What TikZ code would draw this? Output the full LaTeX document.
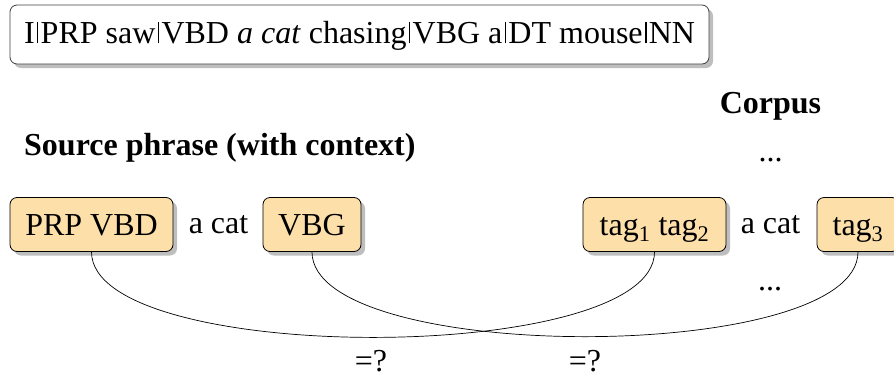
\documentclass[tikz,border=0pt]{standalone}
\usepackage{fontspec}
\setmainfont{Liberation Serif}
\usetikzlibrary{shadows}
\definecolor{tagfill}{RGB}{253,223,170}
\definecolor{shadowgray}{RGB}{190,190,190}
% short separator bar between a word and its tag
\newcommand{\tagsep}{\makebox[0.19em]{\rule{1.6pt}{0.66em}}}
\begin{document}
\begin{tikzpicture}[x=1pt,y=-1pt,
  every node/.style={font=\fontsize{32}{38}\selectfont, inner sep=0pt},
  boxbase/.style={rounded corners=7pt, line width=0.8pt,
    drop shadow={shadow xshift=4pt, shadow yshift=-4pt, fill=shadowgray, opacity=1}},
  sentbox/.style={boxbase, draw=black!75, fill=white, minimum width=699pt, minimum height=59pt,
    text height=24pt, text depth=7pt},
  tagbox/.style={boxbase, draw=black, fill=tagfill, minimum height=54pt,
    text height=24pt, text depth=3pt},
  plain/.style={anchor=base},
  heading/.style={anchor=base, font=\fontsize{32}{38}\selectfont\bfseries},
  link/.style={line width=0.7pt, black}
]
\useasboundingbox (0,0) rectangle (894,378);

% tagged input sentence
\node[sentbox] (sent) at (359.5,34.5)
  {I\tagsep PRP saw\tagsep VBD \textit{a cat} chasing\tagsep VBG a\tagsep DT mouse\tagsep NN};

% headings
\node[heading] (corpus) at (770.5,113) {Corpus};
\node[heading, anchor=base west] (source) at (24,155) {Source phrase (with context)};
\node[plain] (dotsA) at (770.5,161) {...};

% source phrase with its context tags
\node[tagbox, minimum width=163pt] (ctxL) at (91.5,224.5) {PRP VBD};
\node[plain] (phrL) at (218.5,233) {a cat};
\node[tagbox, minimum width=98pt] (ctxR) at (312,224.5) {VBG};

% corpus occurrence
\node[tagbox, minimum width=143pt] (tagL) at (654.5,224.5) {tag\textsubscript{1} tag\textsubscript{2}};
\node[plain] (phrR) at (770.5,233) {a cat};
\node[tagbox, minimum width=82pt] (tagR) at (858,224.5) {tag\textsubscript{3}};
\node[plain] (dotsB) at (770,290) {...};

% comparisons of left and right contexts
\draw[link] (ctxL.south) .. controls +(0,114) and +(0,114) .. (tagL.south);
\draw[link] (ctxR.south) .. controls +(0,113) and +(0,113) .. (tagR.south);

\node[plain] (eqL) at (371,371) {=?};
\node[plain] (eqR) at (585,371) {=?};
\end{tikzpicture}
\end{document}
